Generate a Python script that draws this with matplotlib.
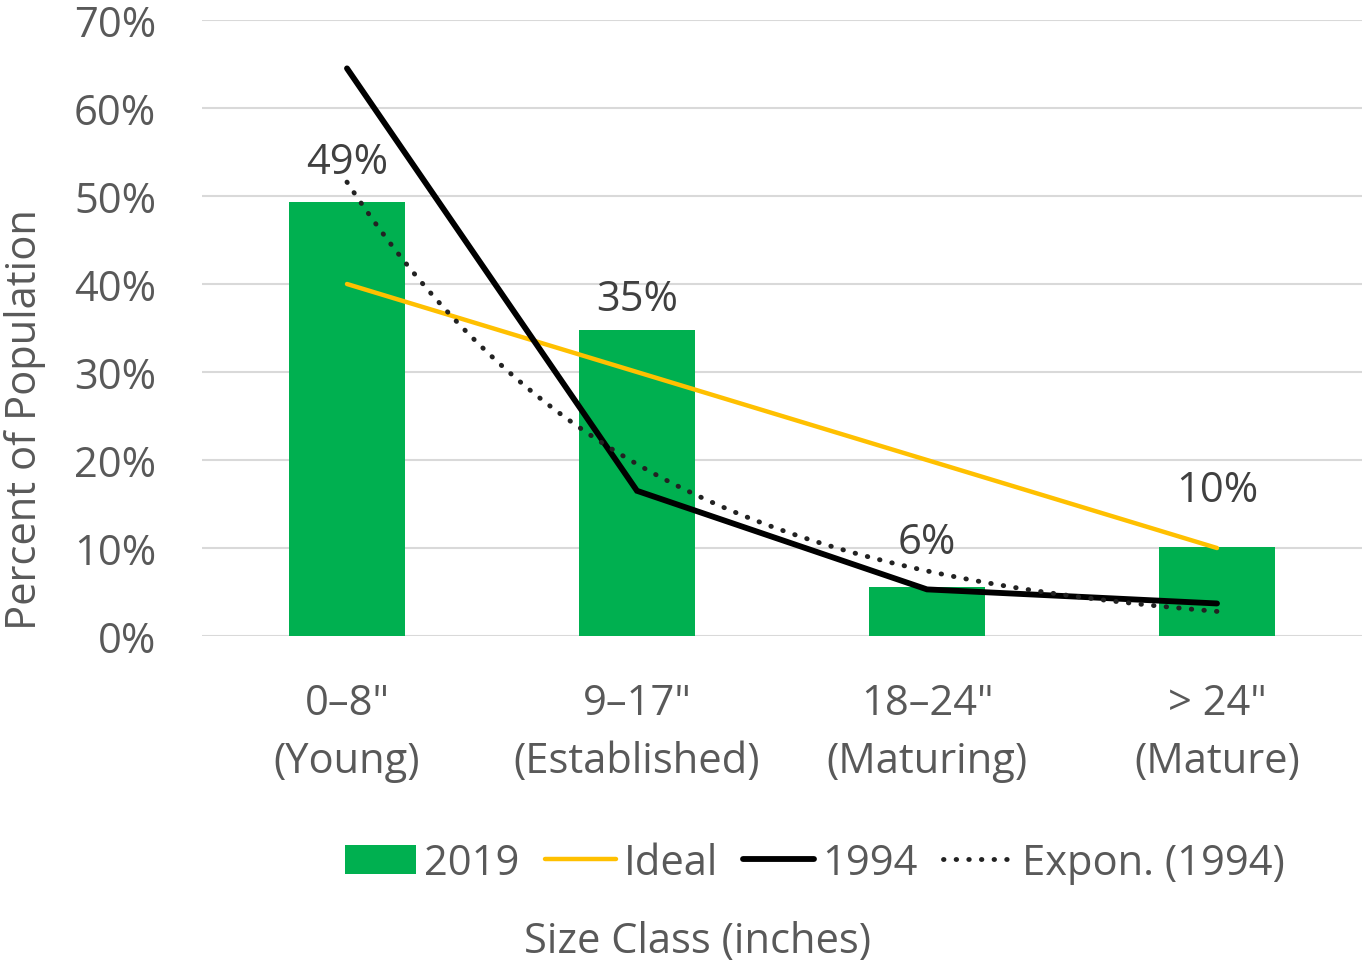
import numpy as np
import matplotlib
matplotlib.use("Agg")
import matplotlib.pyplot as plt

plt.rcParams['font.family'] = ['Open Sans', 'DejaVu Sans']

# size classes and population shares (percent)
categories = ['0\u20138"\n(Young)', '9\u201317"\n(Established)', '18\u201324"\n(Maturing)', '> 24"\n(Mature)']
pop_2019 = [49.3, 34.8, 5.6, 10.1]
labels_2019 = ['49%', '35%', '6%', '10%']
ideal = [40, 30, 20, 10]
pop_1994 = [64.5, 16.5, 5.3, 3.7]
y_ticks = [0, 10, 20, 30, 40, 50, 60, 70]

# label lift above each bar, in points
label_dy = [14, 7, 17, 26]

GREY = '#595959'
FS = 30

fig = plt.figure(figsize=(13.62, 9.62), dpi=100)
ax = fig.add_axes([0.1483, 0.3378, 0.8517, 0.6404])

x = np.arange(1, len(categories) + 1)

bars = ax.bar(x, pop_2019, width=0.4, color='#00b050', zorder=2, label='2019')
l_ideal, = ax.plot(x, ideal, color='#ffc000', lw=3.2, solid_capstyle='round', zorder=3, label='Ideal')
l_1994, = ax.plot(x, pop_1994, color='black', lw=4.2, solid_capstyle='round', solid_joinstyle='miter',
                  zorder=4, label='1994')

# exponential trendline fitted to the 1994 series
b, a = np.polyfit(x, np.log(pop_1994), 1)
xs = np.linspace(1, 4, 200)
l_exp, = ax.plot(xs, np.exp(a + b * xs), color='#222222', lw=3.5, ls=(0, (0.1, 2.5)),
                 dash_capstyle='round', zorder=5, label='Expon. (1994)')

for xi, v, lab, dy in zip(x, pop_2019, labels_2019, label_dy):
    ax.annotate(lab, (xi, v), xytext=(0, dy), textcoords='offset points',
                ha='center', va='bottom', fontsize=FS, color='#404040')

ax.set_xlim(0.5, 4.5)
ax.set_ylim(0, 70)
ax.set_yticks(y_ticks)
ax.set_yticklabels([f'{t}%' for t in y_ticks])
ax.set_xticks(x)
ax.set_xticklabels(categories, linespacing=1.5)
ax.tick_params(axis='both', length=0, labelsize=FS, labelcolor=GREY)
ax.tick_params(axis='x', pad=33)
ax.tick_params(axis='y', pad=33)
ax.grid(axis='y', color='#d9d9d9', lw=1.5, zorder=0)
ax.set_axisbelow(True)
for s in ax.spines.values():
    s.set_visible(False)

fig.legend([bars, l_ideal, l_1994, l_exp], ['2019', 'Ideal', '1994', 'Expon. (1994)'],
           loc='center', bbox_to_anchor=(815 / 1362, 1 - 864 / 962), ncol=4, frameon=False,
           fontsize=FS, labelcolor=GREY, handlelength=1.7, handletextpad=0.2,
           columnspacing=0.6)

fig.text(698 / 1362, 1 - 942 / 962, 'Size Class (inches)', ha='center', va='center',
         fontsize=FS, color=GREY)
fig.text(25 / 1362, 1 - 420 / 962, 'Percent of Population', ha='center', va='center',
         rotation=90, fontsize=FS, color=GREY)

fig.savefig('out.png', dpi=100)
